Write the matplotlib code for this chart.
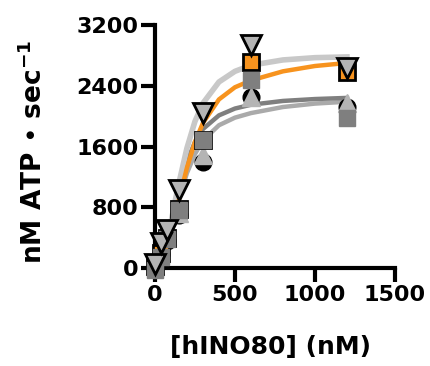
""" hINO80 ATPase titration """
import matplotlib
matplotlib.use("Agg")
import matplotlib.pyplot as plt

# measured points
conc = [0, 37.5, 75, 150, 300, 600, 1200]   # [nM]
down_tri = [50, 330, 500, 1030, 2040, 2940, 2630]
orange_sq = [20, 200, 400, 780, 1690, 2710, 2580]
dark_sq = [-20, 150, 380, 760, 1690, 2480, 1975]
circles = [10, 180, 350, 700, 1400, 2250, 2120]
up_tri = [20, 200, 420, 720, 1490, 2250, 2170]

# fitted curves
fit_x = [0, 25, 50, 75, 100, 125, 150, 200, 250, 300, 400, 500, 600, 800, 1000, 1200]
fit_top = [0, 20, 120, 330, 600, 870, 1120, 1580, 1930, 2170, 2450, 2590, 2670, 2740, 2770, 2780]
fit_orange = [0, 15, 90, 250, 450, 680, 900, 1320, 1660, 1910, 2220, 2380, 2470, 2590, 2660, 2700]
fit_dark = [0, 20, 130, 340, 590, 820, 1020, 1400, 1660, 1830, 2010, 2100, 2150, 2200, 2225, 2240]
fit_low = [0, 15, 100, 290, 510, 720, 910, 1250, 1500, 1680, 1880, 1980, 2040, 2120, 2165, 2190]

xticks = [0, 500, 1000, 1500]
yticks = [0, 800, 1600, 2400, 3200]

ORANGE = "#f7931e"
DARK = "#7f7f7f"
LIGHT = "#c8c8c8"
MID = "#aaaaaa"

plt.rcParams['font.family'] = 'DejaVu Sans'
plt.rcParams['font.weight'] = 'bold'

fig = plt.figure(figsize=(4.30, 3.66), dpi=100)
ax = fig.add_axes([0.338, 0.2366, 0.5805, 0.6951])

ax.plot(fit_x, fit_low, color=MID, lw=3.2, zorder=2)
ax.plot(fit_x, fit_dark, color=DARK, lw=3.2, zorder=2)
ax.plot(fit_x, fit_top, color=LIGHT, lw=4, zorder=2)
ax.plot(fit_x, fit_orange, color=ORANGE, lw=3.2, zorder=2)

ax.plot(conc, circles, "o", ms=12, color="black", zorder=3, clip_on=False)
ax.plot(conc, up_tri, "^", ms=13, color="#b4b4b4", zorder=4, clip_on=False)
ax.plot(conc, orange_sq, "s", ms=11, mfc=ORANGE, mec="black", mew=2, zorder=5, clip_on=False)
ax.plot(conc, dark_sq, "s", ms=12, color=DARK, zorder=6, clip_on=False)
ax.plot(conc, down_tri, "v", ms=14, mfc="#b4b4b4", mec="black", mew=2, zorder=7, clip_on=False)

ax.set_xlim(-60, 1500)
ax.set_ylim(-150, 3200)
ax.spines['left'].set_position(('data', 0))
ax.spines['bottom'].set_position(('data', 0))
ax.spines['left'].set_bounds(0, 3200)
ax.spines['bottom'].set_bounds(0, 1500)
for s in ['top', 'right']:
    ax.spines[s].set_visible(False)
for s in ['left', 'bottom']:
    ax.spines[s].set_linewidth(3)
ax.set_xticks(xticks)
ax.set_yticks(yticks)
ax.tick_params(width=3, length=10, labelsize=16, pad=2)

ax.set_xlabel('[hINO80] (nM)', fontsize=18, fontweight='bold')
ax.set_ylabel('nM ATP • sec$^{\\mathbf{-1}}$', fontsize=19, fontweight='bold')
ax.yaxis.set_label_coords(-0.39, 0.5)
ax.xaxis.set_label_coords(0.5, -0.22)

fig.savefig("out.png", dpi=100)
